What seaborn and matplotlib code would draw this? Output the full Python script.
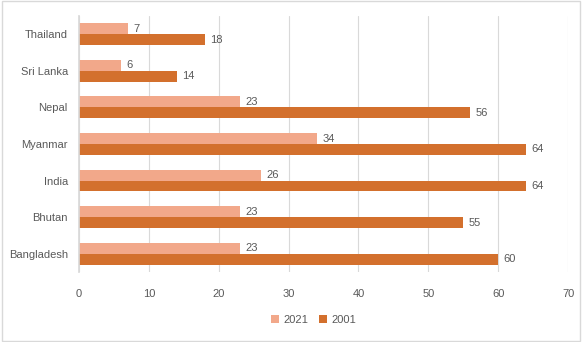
import matplotlib
matplotlib.use("Agg")
import matplotlib.pyplot as plt
import seaborn as sns
import pandas as pd
from matplotlib.patches import Rectangle

countries = ["Thailand", "Sri Lanka", "Nepal", "Myanmar", "India", "Bhutan", "Bangladesh"]
values_2021 = [7, 6, 23, 34, 26, 23, 23]
values_2001 = [18, 14, 56, 64, 64, 55, 60]
series = ["2021", "2001"]
x_ticks = [0, 10, 20, 30, 40, 50, 60, 70]

df = pd.DataFrame({
    "country": countries * 2,
    "value": values_2021 + values_2001,
    "year": [series[0]] * len(countries) + [series[1]] * len(countries),
})

sns.set_theme(style="white")
plt.rcParams["font.family"] = ["Liberation Sans", "DejaVu Sans"]
txt = "#595959"

fig = plt.figure(figsize=(5.82, 3.42), dpi=100)
ax = fig.add_axes([0.1357, 0.205, 0.976 - 0.1357, 0.953 - 0.205])
palette = {"2021": "#F2A88A", "2001": "#D3702D"}
sns.barplot(data=df, x="value", y="country", hue="year", order=countries,
            hue_order=series, palette=palette, orient="h", width=0.6,
            saturation=1, linewidth=0, ax=ax, legend=True)

for cont in ax.containers:
    ax.bar_label(cont, fmt="%g", padding=4, fontsize=8, color=txt)

ax.set_xlim(0, 70)
ax.set_ylim(len(countries) - 0.5, -0.5)
ax.set_xticks(x_ticks)
ax.set_xlabel("")
ax.set_ylabel("")
ax.grid(axis="x", color="#D9D9D9", linewidth=0.8)
ax.set_axisbelow(True)
for s in ["top", "right", "bottom"]:
    ax.spines[s].set_visible(False)
ax.spines["left"].set_color("#D9D9D9")
ax.tick_params(axis="y", labelsize=8, colors=txt, length=0, pad=8)
ax.tick_params(axis="x", labelsize=8, colors=txt, length=0, pad=12)

ax.legend(loc="upper center", bbox_to_anchor=(0.5 - 0.02, -0.13), ncol=2,
          frameon=False, fontsize=8, handlelength=0.7, handleheight=0.7,
          columnspacing=1.0, handletextpad=0.4, labelcolor=txt)

fig.patches.append(Rectangle((0.003, 0.003), 0.994, 0.994, transform=fig.transFigure,
                             fill=False, edgecolor="#D9D9D9", linewidth=1))
fig.savefig("out.png", dpi=100)
